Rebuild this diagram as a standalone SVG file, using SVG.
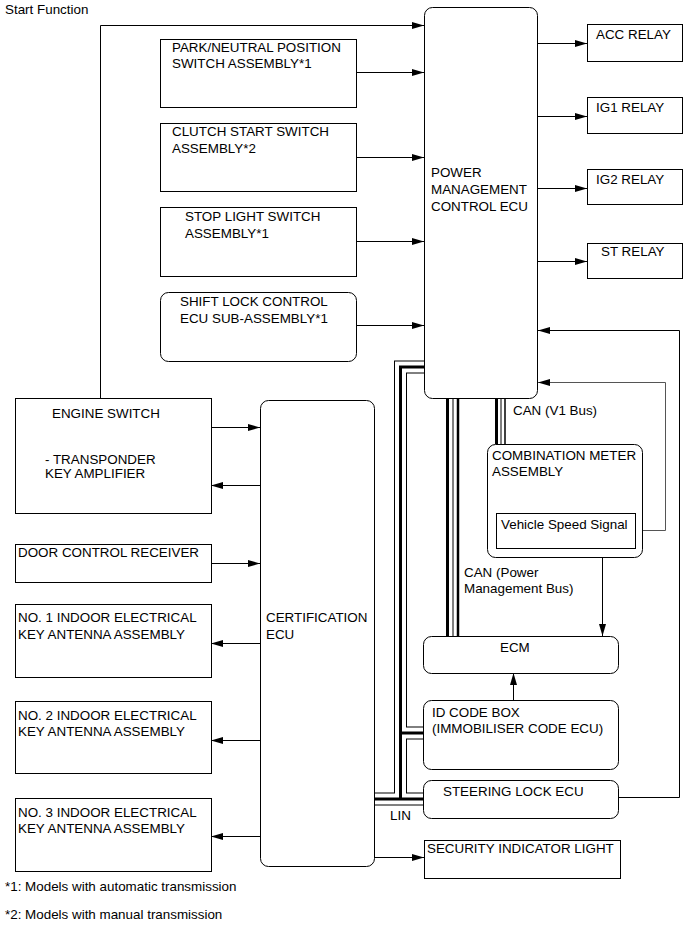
<svg xmlns="http://www.w3.org/2000/svg" width="690" height="952" viewBox="0 0 690 952">
<defs>
<style>
text{font-family:"Liberation Sans",Arial,sans-serif;font-size:13.4px;fill:#000}
.b{fill:#fff;stroke:#000;stroke-width:1}
.w{fill:none;stroke:#000;stroke-width:1}
.g{fill:none;stroke:#555;stroke-width:1}
.bus1{fill:none;stroke:#000;stroke-width:13;stroke-linejoin:miter}
.bus2{fill:none;stroke:#fff;stroke-width:11;stroke-linejoin:miter}
.bus3{fill:none;stroke:#000;stroke-width:3;stroke-linejoin:miter}
</style>
<marker id="ah" markerWidth="12" markerHeight="7" refX="12" refY="3.5" orient="auto" markerUnits="userSpaceOnUse"><path d="M0,0 L12,3.5 L0,7 z" fill="#000"/></marker>
</defs>
<rect width="690" height="952" fill="#fff"/>
<text x="5" y="13.5">Start Function</text>

<g id="connectors">
<path class="w" d="M100.5,398 V25.5 H424" marker-end="url(#ah)"/>
<path class="w" d="M357,72.5 H424" marker-end="url(#ah)"/>
<path class="w" d="M357,157.5 H424" marker-end="url(#ah)"/>
<path class="w" d="M357,241.5 H424" marker-end="url(#ah)"/>
<path class="w" d="M357,325.5 H424" marker-end="url(#ah)"/>
<path class="w" d="M538,43.5 H587" marker-end="url(#ah)"/>
<path class="w" d="M538,116.5 H587" marker-end="url(#ah)"/>
<path class="w" d="M538,188.5 H587" marker-end="url(#ah)"/>
<path class="w" d="M538,261.5 H587" marker-end="url(#ah)"/>
<path class="w" d="M211,427.5 H260" marker-end="url(#ah)"/>
<path class="w" d="M260,485.5 H211" marker-end="url(#ah)"/>
<path class="w" d="M211,563.5 H260" marker-end="url(#ah)"/>
<path class="w" d="M260,643.5 H211" marker-end="url(#ah)"/>
<path class="w" d="M260,740.5 H211" marker-end="url(#ah)"/>
<path class="w" d="M260,836.5 H211" marker-end="url(#ah)"/>
<path class="w" d="M374,857.5 H424" marker-end="url(#ah)"/>
<path class="w" d="M619,797.5 H679.5 V330.5 H538" marker-end="url(#ah)"/>
<path class="g" d="M636,530.5 H665.5 V382.5 H538" marker-end="url(#ah)"/>
<path class="w" d="M602.5,548 V636" marker-end="url(#ah)"/>
<path class="w" d="M513.5,700 V673" marker-end="url(#ah)"/>
<path class="bus1" d="M424,367 H400.5 V799 M374,799 H424 M400.5,733 H424"/>
<path class="bus2" d="M424,367 H400.5 V799 M374,799 H424 M400.5,733 H424"/>
<path class="bus3" d="M424,367 H400.5 V799 M374,799 H424 M400.5,733 H424"/>
<line x1="447.5" y1="398" x2="447.5" y2="636" stroke="#000" stroke-width="3"/>
<line x1="453" y1="398" x2="453" y2="636" stroke="#000" stroke-width="1"/>
<line x1="458" y1="398" x2="458" y2="636" stroke="#000" stroke-width="2.5"/>
<line x1="496.5" y1="398" x2="496.5" y2="444" stroke="#000" stroke-width="3"/>
<line x1="501" y1="398" x2="501" y2="444" stroke="#000" stroke-width="1"/>
<line x1="505" y1="398" x2="505" y2="444" stroke="#000" stroke-width="1.5"/>
</g>

<g id="pmc">
<rect class="b" x="424.5" y="7.5" width="113" height="391" rx="8"/>
<text x="431" y="177">POWER</text>
<text x="431" y="194">MANAGEMENT</text>
<text x="431" y="211">CONTROL ECU</text>
</g>

<g id="acc-relay"><rect class="b" x="587.5" y="24.5" width="95" height="37"/><text x="596" y="38.5">ACC RELAY</text></g>
<g id="ig1-relay"><rect class="b" x="587.5" y="97.5" width="95" height="36"/><text x="596" y="112">IG1 RELAY</text></g>
<g id="ig2-relay"><rect class="b" x="587.5" y="169.5" width="95" height="35"/><text x="596" y="183.5">IG2 RELAY</text></g>
<g id="st-relay"><rect class="b" x="587.5" y="243.5" width="95" height="35"/><text x="601" y="255.5">ST RELAY</text></g>

<g id="park-neutral"><rect class="b" x="160.5" y="39.5" width="196" height="68"/>
<text x="172" y="51.5">PARK/NEUTRAL POSITION</text><text x="172" y="67.5">SWITCH ASSEMBLY*1</text></g>
<g id="clutch"><rect class="b" x="160.5" y="123.5" width="196" height="68"/>
<text x="172" y="136">CLUTCH START SWITCH</text><text x="172" y="153">ASSEMBLY*2</text></g>
<g id="stop-light"><rect class="b" x="160.5" y="207.5" width="196" height="69"/>
<text x="185" y="220.5">STOP LIGHT SWITCH</text><text x="185" y="237.5">ASSEMBLY*1</text></g>
<g id="shift-lock"><rect class="b" x="160.5" y="292.5" width="196" height="69" rx="8"/>
<text x="180" y="305.5">SHIFT LOCK CONTROL</text><text x="180" y="322.5">ECU SUB-ASSEMBLY*1</text></g>

<g id="engine-switch"><rect class="b" x="15.5" y="398.5" width="196" height="115"/>
<text x="52" y="417.5">ENGINE SWITCH</text>
<text x="45" y="463.5">- TRANSPONDER</text><text x="45" y="478">KEY AMPLIFIER</text></g>

<g id="certification-ecu"><rect class="b" x="260.5" y="400.5" width="114" height="466" rx="8"/>
<text x="266" y="621.5">CERTIFICATION</text><text x="266" y="638.5">ECU</text></g>

<g id="door-control"><rect class="b" x="15.5" y="544.5" width="196" height="38"/><text x="18" y="556.5">DOOR CONTROL RECEIVER</text></g>
<g id="antenna1"><rect class="b" x="15.5" y="604.5" width="196" height="73"/>
<text x="18" y="621.5">NO. 1 INDOOR ELECTRICAL</text><text x="18" y="638.5">KEY ANTENNA ASSEMBLY</text></g>
<g id="antenna2"><rect class="b" x="15.5" y="701.5" width="196" height="72"/>
<text x="18" y="719.5">NO. 2 INDOOR ELECTRICAL</text><text x="18" y="736">KEY ANTENNA ASSEMBLY</text></g>
<g id="antenna3"><rect class="b" x="15.5" y="798.5" width="196" height="73"/>
<text x="18" y="816.5">NO. 3 INDOOR ELECTRICAL</text><text x="18" y="833">KEY ANTENNA ASSEMBLY</text></g>

<g id="security-light"><rect class="b" x="424.5" y="840.5" width="196" height="38"/><text x="427" y="852.5">SECURITY INDICATOR LIGHT</text></g>

<g id="combination-meter"><rect class="b" x="487.5" y="444.5" width="155" height="113" rx="8"/>
<text x="492" y="459.5">COMBINATION METER</text><text x="492" y="475.5">ASSEMBLY</text>
<rect class="b" x="496.5" y="513.5" width="139" height="35"/>
<text x="501" y="528.5">Vehicle Speed Signal</text></g>

<g id="ecm"><rect class="b" x="423.5" y="636.5" width="195" height="37" rx="8"/><text x="500" y="651.5">ECM</text></g>
<g id="id-code-box"><rect class="b" x="423.5" y="700.5" width="195" height="69" rx="8"/>
<text x="432" y="716.5">ID CODE BOX</text><text x="432" y="732.5">(IMMOBILISER CODE ECU)</text></g>
<g id="steering-lock"><rect class="b" x="423.5" y="780.5" width="195" height="38" rx="8"/><text x="443" y="795.5">STEERING LOCK ECU</text></g>

<text x="513" y="415">CAN (V1 Bus)</text>
<text x="464" y="576.5">CAN (Power</text>
<text x="464" y="592.5">Management Bus)</text>
<text x="390" y="819.5">LIN</text>
<text x="5" y="890.5">*1: Models with automatic transmission</text>
<text x="5" y="918.5">*2: Models with manual transmission</text>
</svg>
